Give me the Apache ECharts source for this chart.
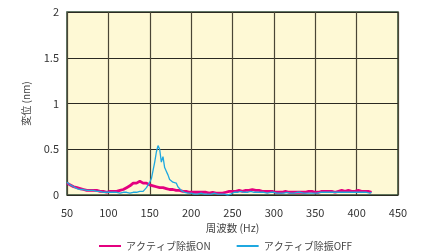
<!DOCTYPE html>
<html>
<head>
<meta charset="utf-8">
<script src="https://cdn.jsdelivr.net/npm/echarts@6/dist/echarts.min.js"></script>
<style>
  html, body { margin: 0; padding: 0; background: #fff; }
  #chart { width: 423px; height: 251px; }
</style>
</head>
<body>
<div id="chart"></div>
<script>
// frequency grid (Hz), 2 Hz step from 50 to 418
const freqs = [];
for (let f = 50; f <= 418; f += 2) freqs.push(f);

// displacement (nm), active isolation ON
const valuesOn = [
  0.13,0.12,0.11,0.10,0.09,0.08,0.08,0.07,0.07,0.06,
  0.06,0.06,0.05,0.06,0.05,0.05,0.05,0.04,0.05,0.04,
  0.04,0.04,0.04,0.04,0.03,0.04,0.04,0.04,0.04,0.05,
  0.04,0.05,0.05,0.06,0.06,0.07,0.08,0.09,0.10,0.11,
  0.13,0.14,0.13,0.14,0.15,0.14,0.13,0.14,0.13,0.12,
  0.11,0.11,0.10,0.10,0.09,0.09,0.08,0.08,0.08,0.07,
  0.07,0.07,0.06,0.06,0.06,0.05,0.05,0.05,0.05,0.04,
  0.04,0.04,0.04,0.03,0.03,0.03,0.03,0.03,0.03,0.03,
  0.03,0.03,0.03,0.02,0.03,0.03,0.02,0.03,0.03,0.02,
  0.02,0.02,0.02,0.01,0.02,0.02,0.03,0.03,0.04,0.05,
  0.04,0.03,0.04,0.04,0.05,0.05,0.04,0.05,0.05,0.06,
  0.05,0.05,0.06,0.05,0.05,0.04,0.05,0.05,0.04,0.04,
  0.04,0.04,0.04,0.03,0.04,0.04,0.03,0.04,0.03,0.04,
  0.03,0.03,0.04,0.03,0.03,0.04,0.03,0.03,0.03,0.04,
  0.03,0.03,0.03,0.04,0.03,0.04,0.04,0.03,0.04,0.03,
  0.03,0.04,0.03,0.04,0.04,0.03,0.04,0.04,0.04,0.03,
  0.04,0.04,0.03,0.04,0.04,0.04,0.05,0.04,0.04,0.04,
  0.05,0.04,0.04,0.05,0.04,0.04,0.05,0.04,0.04,0.04,
  0.04,0.03,0.04,0.03,0.03
];

// displacement (nm), active isolation OFF
const valuesOff = [
  0.14,0.12,0.11,0.10,0.09,0.08,0.07,0.07,0.06,0.06,
  0.06,0.05,0.05,0.05,0.05,0.04,0.05,0.04,0.04,0.04,
  0.04,0.04,0.03,0.04,0.03,0.03,0.03,0.03,0.03,0.03,
  0.03,0.03,0.02,0.03,0.03,0.02,0.03,0.03,0.02,0.02,
  0.03,0.02,0.03,0.03,0.04,0.04,0.04,0.06,0.08,0.11,
  0.14,0.18,0.27,0.36,0.47,0.54,0.50,0.36,0.42,0.30,
  0.26,0.22,0.17,0.15,0.14,0.12,0.13,0.09,0.08,0.05,
  0.04,0.03,0.02,0.02,0.01,0.02,0.01,0.01,0.02,0.01,
  0.01,0.02,0.01,0.01,0.02,0.01,0.02,0.01,0.01,0.02,
  0.01,0.01,0.02,0.01,0.00,0.01,0.00,0.00,0.00,0.01,
  0.02,0.03,0.02,0.03,0.03,0.04,0.03,0.03,0.04,0.03,
  0.03,0.04,0.03,0.03,0.04,0.03,0.03,0.03,0.02,0.03,
  0.03,0.02,0.03,0.03,0.02,0.03,0.03,0.02,0.03,0.02,
  0.03,0.02,0.02,0.03,0.02,0.02,0.03,0.02,0.02,0.03,
  0.02,0.03,0.02,0.02,0.03,0.02,0.03,0.02,0.03,0.02,
  0.03,0.02,0.03,0.03,0.02,0.03,0.03,0.03,0.02,0.03,
  0.03,0.03,0.02,0.03,0.03,0.03,0.04,0.03,0.03,0.03,
  0.03,0.03,0.04,0.03,0.03,0.03,0.04,0.03,0.03,0.03,
  0.03,0.03,0.03,0.02,0.03
];

const seriesNames = ["アクティブ除振ON", "アクティブ除振OFF"];
const font = "'Noto Sans CJK JP', 'Noto Sans', sans-serif";

const chart = echarts.init(document.getElementById("chart"));
chart.setOption({
  animation: false,
  backgroundColor: "#fff",
  textStyle: { fontFamily: font },
  grid: {
    left: 67,
    right: 25,
    top: 12,
    bottom: 56,
    show: true,
    backgroundColor: "#fef9d5",
    borderColor: "#2e4a33",
    borderWidth: 1.5,
  },
  legend: {
    data: seriesNames,
    bottom: -5,
    left: 94,
    itemGap: 26,
    itemWidth: 22,
    itemHeight: 2,
    icon: "rect",
    textStyle: { fontSize: 10, color: "#444", fontFamily: font },
  },
  xAxis: {
    type: "value",
    min: 50,
    max: 450,
    interval: 50,
    name: "周波数 (Hz)",
    nameLocation: "middle",
    nameGap: 28,
    nameTextStyle: { fontSize: 10.5, color: "#444", fontFamily: font },
    axisLine: { show: false },
    axisTick: { show: false },
    axisLabel: { fontSize: 11, color: "#333", margin: 12 },
    splitLine: { lineStyle: { color: "#4a4636", width: 1.2 } },
  },
  yAxis: {
    type: "value",
    min: 0,
    max: 2,
    interval: 0.5,
    name: "変位 (nm)",
    nameLocation: "middle",
    nameGap: 36,
    nameTextStyle: { fontSize: 10, color: "#444", fontFamily: font },
    axisLine: { show: false },
    axisTick: { show: false },
    axisLabel: { fontSize: 11, color: "#333", margin: 8 },
    splitLine: { lineStyle: { color: "#2b2a22", width: 1.2 } },
  },
  series: [
    {
      name: seriesNames[0],
      type: "line",
      data: freqs.map((f, i) => [f, valuesOn[i]]),
      showSymbol: false,
      itemStyle: { color: "#e4007f" },
      lineStyle: { color: "#e4007f", width: 2.8 },
      z: 3,
    },
    {
      name: seriesNames[1],
      type: "line",
      data: freqs.map((f, i) => [f, valuesOff[i]]),
      showSymbol: false,
      itemStyle: { color: "#1fa8e0" },
      lineStyle: { color: "#1fa8e0", width: 1.3 },
      z: 4,
    },
  ],
});
</script>
</body>
</html>
